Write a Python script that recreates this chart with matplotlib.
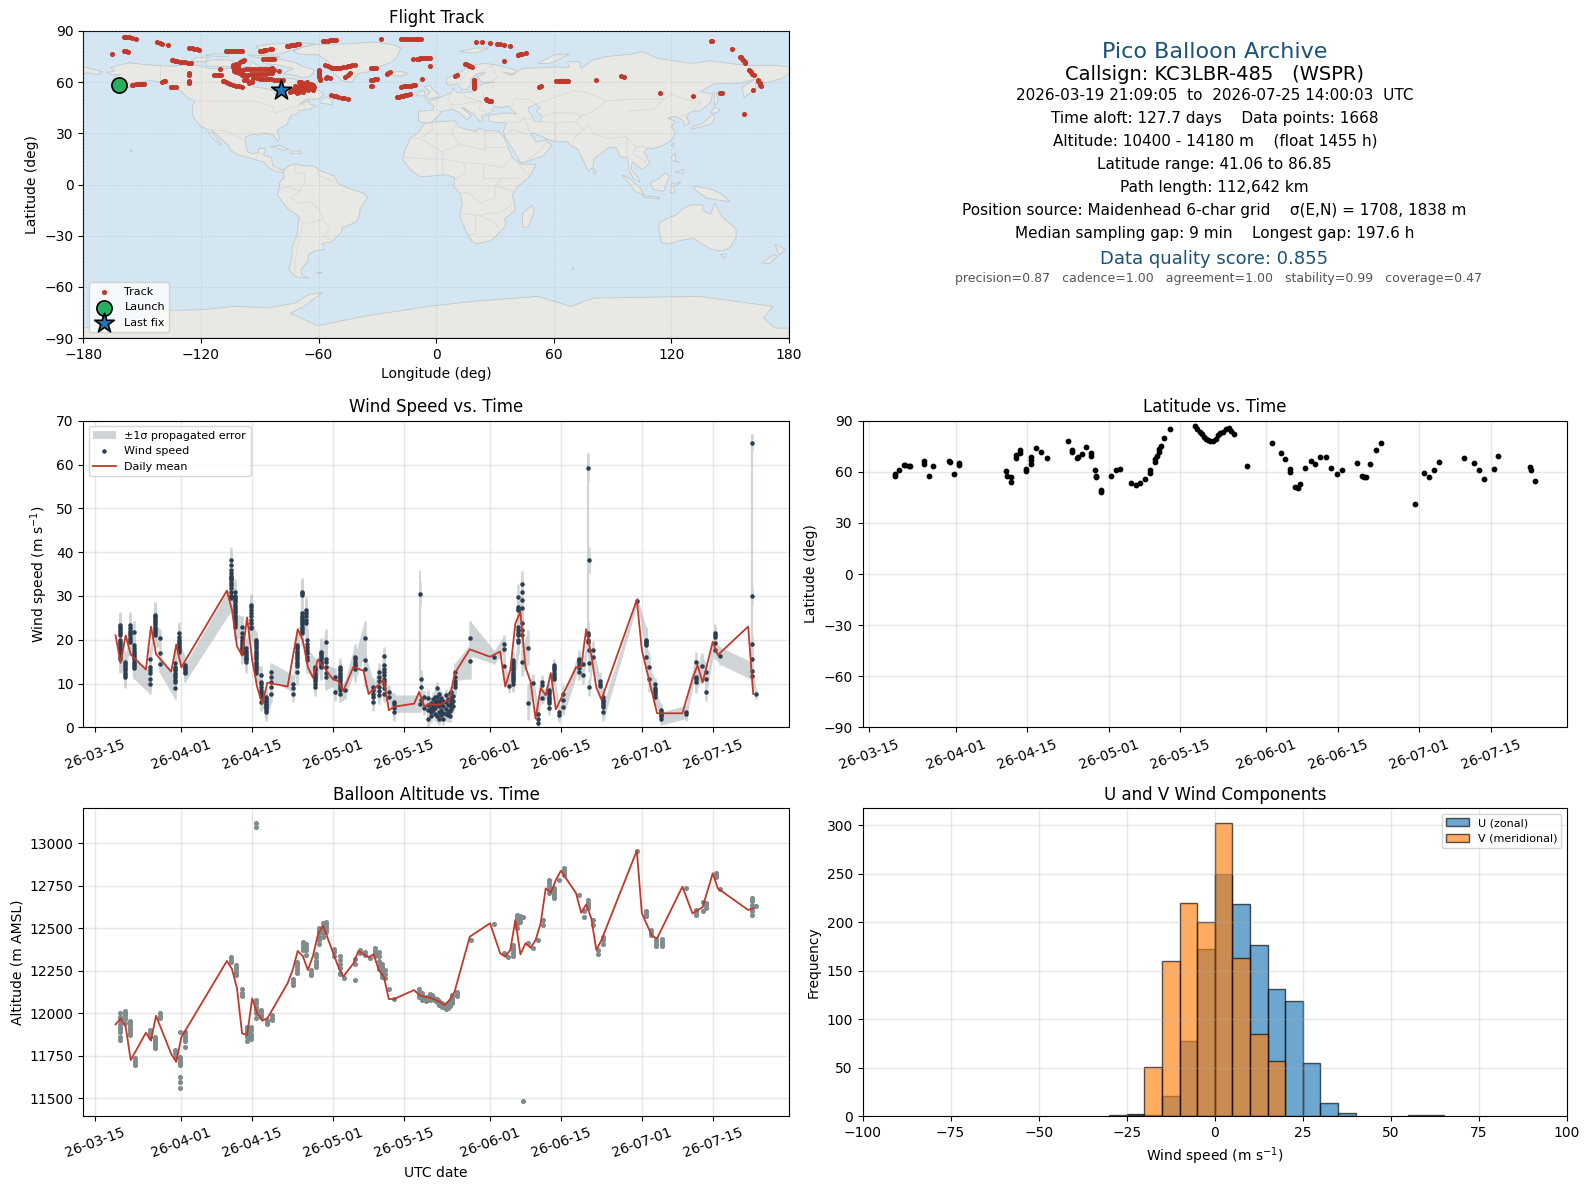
import datetime as dt
import numpy as np
import matplotlib
matplotlib.use("Agg")
import matplotlib.pyplot as plt
import matplotlib.dates as mdates
from matplotlib.patches import Polygon

W, H = 1590, 1189
BASE = mdates.date2num(dt.datetime(2026, 3, 15))

# ---- map data (lon, lat) ----
land = [
 [(-168,65.5),(-164,66.5),(-166,68.5),(-160,70.5),(-156.5,71.3),(-150,70.5),(-141,69.7),(-135,69.3),(-128,70.2),(-120,69.5),(-115,68),(-108,68),(-100,68),(-95,69.5),(-94,72),(-90,69),(-85,69.5),(-81.5,68.5),(-85,66),(-87,64.5),(-92,62.5),(-94.5,60),(-92.5,57),(-88,56.5),(-82.5,55),(-82,52.5),(-79.5,51.5),(-79,54.5),(-77,56.5),(-78,59),(-77.5,62.5),(-73,62),(-70,61),(-65,60),(-64.5,58.5),(-61,56),(-57,53),(-60,50),(-66,50),(-70,47),(-65,49),(-64.5,47),(-61,46),(-65,44),(-70,43.5),(-70.5,41.5),(-74,40.5),(-75.5,37.5),(-76,35),(-79,33.5),(-81,31.5),(-80,27),(-80.5,25.2),(-82,27),(-83,29),(-85,29.7),(-89,30),(-90,29),(-94,29.5),(-97,28),(-97.5,24),(-96,19),(-94,18),(-91,18.7),(-90.5,21),(-87,21.5),(-88,17),(-84,15.8),(-83.3,11),(-80,9),(-77.5,8.7),(-78,7.3),(-80.5,7.3),(-83,8.3),(-85.5,10),(-87.5,13),(-92,14.5),(-96,15.8),(-101,17.3),(-105,20),(-105.5,22.5),(-109,26),(-112.5,30),(-114.7,31.7),(-112.5,28),(-110,24),(-109.7,23),(-112,25),(-115,28.5),(-117,32.5),(-120.5,34.5),(-122.5,37.5),(-124,40),(-124.5,43),(-124,47),(-123,49),(-127,51),(-130,54.5),(-133,57),(-137,58.5),(-140,60),(-146,61),(-151,60),(-153,58),(-158,56.5),(-163,55),(-160,58.5),(-165,60.5),(-164,63),(-161,64.5),(-166,64.5)],
 [(-73,78.2),(-68,80.5),(-62,82),(-45,82.5),(-32,83.5),(-22,82),(-18,80),(-20,75),(-22,72),(-28,69.5),(-35,66),(-40,65),(-43,60),(-48,61),(-52,65),(-54,69),(-55,72),(-60,76),(-70,76.5)],
 [(-80,73.5),(-72,71.5),(-67,69),(-62,67),(-64,63.5),(-68,62.5),(-72,64),(-78,65),(-73,68),(-80,70),(-88,71),(-89,73.5)],
 [(-90,76.5),(-80,76.5),(-76,78),(-70,80),(-62,82.5),(-70,83),(-85,82.3),(-92,81),(-88,78)],
 [(-117,69.5),(-105,69),(-101,70),(-105,73),(-115,73),(-118,71.5)],
 [(-125,72),(-118,72),(-116,74.5),(-122,74.5)],
 [(-96,76),(-80,75),(-80,74.5),(-92,74.5)],
 [(-118,75.5),(-106,75),(-106,76.5),(-115,76.5)],
 [(-59,47.7),(-53,46.8),(-53,49),(-56,51.5),(-58,50)],
 [(-85,22),(-80,23),(-75,20.5),(-78,20),(-82,22)],
 [(-74,19.7),(-69,19.5),(-68.5,18.3),(-74,18.2)],
 [(-156,20.5),(-155,19.7),(-155.7,19)],
 [(-77.5,8.7),(-75,11),(-72,12),(-68,11),(-62,10.7),(-60,8.5),(-52,5),(-50,0.5),(-44,-2.5),(-37,-5),(-35,-7.5),(-39,-15),(-39,-18),(-41,-22),(-48,-25.5),(-48.5,-28),(-53,-33.5),(-58,-34.5),(-57,-38),(-62,-39),(-65,-41),(-65.5,-45),(-69,-50),(-68.5,-53),(-65,-55),(-72,-54),(-75,-50),(-73.5,-42),(-73.5,-37),(-71,-30),(-70,-18.5),(-76,-14),(-81,-6),(-80,-2.5),(-80,1),(-77.5,4),(-78,7.3)],
 [(-6,35.8),(3,37),(10,37.3),(11,34),(15,32.5),(20,31),(22,33),(25,31.7),(32,31.2),(34.5,28),(37,21),(39,15.5),(43,12),(51,11.8),(48,5),(41,-2),(39,-6),(40.5,-15),(35,-20),(35.5,-24),(32.5,-28),(28,-33),(20,-34.8),(18,-33),(15,-27),(12,-18),(13.5,-11),(12,-5),(9,-1),(9.5,4),(5,5.8),(-2,5),(-8,4.5),(-13,8.5),(-17,14.7),(-16,20),(-13,27.5),(-9.5,30)],
 [(-9,37),(-9,43),(-2,43.5),(-1,46),(-4.5,48.5),(2,51),(8,54),(8.5,57),(10.5,54),(14,54),(20,54.5),(21,57),(24,59),(30,60),(23,60),(21,63),(25,65.5),(22,65.5),(17.5,62),(18,59.5),(16,56),(13,55.5),(11,59),(6,58),(5,62),(12,66),(18,70),(25,71),(31,70),(41,67),(40,64.7),(34,66),(38,64),(44,68),(54,68.5),(60,69),(68,68.5),(67,72),(73,72),(74,68),(80,73),(87,75),(100,76.5),(105,78),(113,74),(130,71),(140,72.5),(160,69.5),(170,70),(180,69),(180,65),(177,62.5),(170,60),(163,59.5),(163,56),(157,51),(156,57),(163,62),(155,59.3),(142,59),(135,54.5),(141,53),(140,48),(135,43.5),(130,42.5),(127.5,39.5),(129.5,36),(126.5,34.5),(126,37.5),(122,40),(118,39),(122,37),(120,34),(122,30),(120,26),(115,22.5),(110,21),(108,21.5),(106,19),(109,13),(107,10.5),(105,8.8),(100,13.5),(99.5,9),(103,4),(104,1.5),(101,3),(98.5,8),(97.5,16),(94,16),(92,21.5),(88,22),(87,20.5),(80.5,15),(80,10),(77.5,8),(73,19),(72,21),(69,22.5),(67,25),(61,25),(57,26.5),(50,30),(48,30),(51,25),(56,26),(59,23),(55,17),(45,13),(43,13),(39,21),(35,28),(34.3,31.3),(36,36),(30,36.5),(27,37),(26.5,40),(29,41),(35,42),(41,41.5),(38,44.5),(37,46),(33,45),(30,46),(28,42),(23,40),(24,38),(22.5,36.5),(19.5,41),(13,45.5),(18,40),(15.5,38),(12,42),(8.5,44),(3,43),(0,39),(-2,36.7),(-5.5,36)],
 [(-180,65),(-180,69),(-175,67.5),(-170,66),(-173,64.5),(-178,65.5)],
 [(-5.5,50),(1,51.2),(1.5,53),(-2,56),(-3,58.5),(-6,57),(-3,54.5),(-5,52)],
 [(-10,52),(-6,52),(-6,55),(-9,54.5)],
 [(-24,65.5),(-18,66.3),(-14,65),(-18,63.5),(-22.5,64)],
 [(12,78),(20,80),(27,80),(20,77)],
 [(52,71),(58,71),(68,76.5),(60,76)],
 [(142,46),(144,49),(143,54),(142,53.5)],
 [(130,32),(131,34),(136,36),(140,40),(141.5,41),(142,39),(140.5,35.5),(136,34),(132,33)],
 [(140,42),(142,45.5),(145,43.5),(143,42)],
 [(120,23),(121.5,25),(121,22)],
 [(120,16),(122,18.5),(122,14),(124,13),(120.5,14)],
 [(122,7),(126,9),(126,6.5)],
 [(80,9.5),(82,7.5),(80.5,6)],
 [(95,5.5),(98,4),(104,-2),(106,-6),(102,-4.5)],
 [(105.5,-6.5),(114,-7.5),(114,-8.5),(106,-7.5)],
 [(109,1),(113,3),(117,7),(119,5),(117.5,1),(116,-4),(111,-3)],
 [(119.5,-5),(120,0.5),(125,1.5),(121,-1),(122,-5)],
 [(131,-1),(138,-2),(145,-5),(150,-10),(143,-9),(138,-8),(133,-4)],
 [(114,-22),(122,-18),(126,-14),(130,-12),(136,-12),(136,-15),(140,-17.5),(142,-11),(146,-19),(153,-26),(153,-31),(150,-37),(146,-39),(140,-38),(136,-35),(131,-31.5),(124,-33),(118,-35),(115,-34),(113.5,-26)],
 [(145,-41),(148,-41),(147,-43.5)],
 [(173,-35),(178,-38),(175,-41.5),(174,-39)],
 [(172,-41),(174,-42),(170,-46.5),(166.5,-46)],
 [(49,-12),(50,-16),(47,-25),(44,-25),(44,-17)],
 [(-61,-51.5),(-58,-51.5),(-59,-52.3)],
 [(69,-49),(70.5,-49),(70,-50)],
 [(-180,-84.2),(-135.4,-73.8),(-119,-73.4),(-102.6,-71.4),(-86,-72.4),(-72,-69.5),(-65,-64.6),(-58,-63.3),(-67.4,-71.5),(-74.5,-75.4),(-60.4,-82.8),(-37,-77.3),(-4,-71.5),(19.3,-68.5),(52.2,-65.6),(68.6,-71.5),(80.3,-66.6),(134.3,-65.6),(171.8,-71.5),(167,-78.3),(173,-84.2),(180,-84.2),(180,-90),(-180,-90)],
]
inland_water = [
 [(47,45),(51,47),(53,45),(51,43),(54,40),(53.5,37),(50,37),(49,40),(47,43)],
]
borders = [
 [(-141,69.7),(-141,60)], [(-123,49),(-95,49),(-89,48),(-83,45.5),(-82.5,42),(-79,43),(-75,45),(-70,46),(-67.5,47),(-67,45)],
 [(-117,32.5),(-108,31.5),(-103,29),(-97.5,26)], [(-92,14.5),(-91,18),(-88,18)],
 [(-72,12),(-72,7),(-67,6),(-67,1),(-70,-4),(-74,-8),(-70,-11),(-65,-10),(-60,-14),(-58,-20),(-54,-26),(-57,-30),(-53,-33.5)],
 [(-70,-18.5),(-68,-23),(-70,-33),(-72,-45),(-72,-52)], [(-60,8.5),(-60,5),(-52,2)],
 [(-80,-2.5),(-75,-1),(-70,-4)], [(-68,-23),(-62,-22),(-58,-20)],
 [(-13,27.5),(-8,27),(3,19),(12,23.5),(25,20),(25,31.7)], [(25,22),(36,22)], [(-2,35),(-2,32),(-8,27)], [(10,37),(8,30),(12,23.5)],
 [(-16,16),(-5,15),(4,15),(14,13),(24,12),(34,10),(38,15)], [(3,19),(3,6)], [(14,13),(15,7),(10,3)], [(24,12),(24,4),(30,4),(34,4),(41,4)],
 [(12,-5),(17,-5),(22,-11),(30,-8),(30,-1),(34,4)], [(12,-17),(22,-18),(33,-16),(40,-11)], [(20,-18),(20,-29),(17,-29)], [(22,-18),(30,-22),(32,-26)],
 [(42,12),(45,8),(48,5)], [(30,-1),(40,-4)],
 [(24,54.5),(24,50),(30,46)], [(14,54),(15,51),(23,49),(22,44),(26,42)], [(8,54),(6,50),(8,47),(13,47),(17,48),(23,49)], [(-2,43.5),(3,43)], [(3,43),(7,44),(8,47)], [(28,56),(30,60)], [(12,60),(18,69)], [(23,66),(29,70)], [(28,60),(31,63),(29,69)],
 [(36,36),(43,37),(45,39),(48,30)], [(35,29),(39,32),(47,29.5)], [(45,13),(52,19),(56,24)], [(44,39),(48,38.5)],
 [(53.5,37),(61,36),(61,30),(61,25)], [(61,36),(71,37),(75,32),(78,35),(80,30),(88,27),(97,28),(97.5,16)], [(69,22.5),(71,28),(75,32)], [(97,28),(102,22),(106,22),(108,21.5)], [(102,22),(100,18),(105,15),(107,13)],
 [(38,44.5),(40,50),(47,50),(51,47),(60,51),(70,55),(77,54),(87,49),(98,50),(107,50),(116,50),(120,53),(127,50),(135,48),(131,43)],
 [(87,49),(80,43),(74,40),(71,37)], [(98,50),(88,49)], [(98,43),(111,44),(116,50)], [(54,40),(60,42),(70,42),(74,40)],
 [(125,40),(130,42.5)],
]
track = [
 (-159.4,86.3),(-158,86.3),(-156.6,86.3),(-155,86),(-153,85.5),(-165.5,76.3),(-159.4,78.3),(-158,78),(-157,77.5),
 (-155.4,58.6),(-153,58.7),(-151,58.8),(-149,59),(-142.5,83.4),(-141,83),(-139.7,82.6),(-136.8,81.6),(-140.1,60.1),(-139,60.5),(-138.3,60.9),(-135.4,57.2),(-134,57.1),(-132.6,57),
 (-126,80),(-124.8,79.8),(-123.7,79.5),(-122,79.2),(-120.9,79),(-135,73),(-133,72.6),(-130.8,72),(-128,71.6),(-125.1,71.1),(-126,65.2),(-126,64.2),(-126,60.9),(-126,60),(-126,59.3),
 (-113.2,64),(-111.5,64),(-109.6,64),(-110.1,67.5),(-108.9,60.7),(-107,60),(-105,59),(-102,58),(-99.1,57.4),
 (-107.3,78.1),(-105,78.1),(-103,78.1),(-101,78.1),(-99.1,78.1),(-89.7,78.1),(-88,78.6),(-86.7,78.9),(-83.6,79.5),(-88.5,73.4),(-86,73.4),(-84,73.4),(-82.7,73.4),
 (-76.3,81.2),(-74,81.6),(-72,82),(-70.2,82.4),(-57.6,83.9),(-55,84.3),(-53,84.6),(-51,84.7),(-28,85.1),(-17.7,85.1),(-15,85.1),(-12,85.1),(-9.5,85.1),(-7.6,85.1),
 (20.5,83.4),(23.3,83.4),(27.5,82.8),(31.1,82.4),(32.5,82.2),(34.6,81.6),(37.6,81.2),
 (-11.6,73.6),(-9,73.8),(-7,74),(-5,74.2),(-2.9,74.2),(-2.9,69.5),
 (140.1,84.3),(140.8,84),(151.1,79.3),(155.4,74.6),(156,73.6),(157,72.5),(157.8,71.5),(159.6,67.2),(160.5,66),(162,64.2),(164.3,60.9),(165,59.5),(165.5,57.8),(161.5,55.4),(157.2,41.06),
 (146,53.5),(145,53.5),(130.8,51.7),(114.3,53.5),(95.6,63.3),(94.5,63.7),(81.7,61.1),(61.1,60.4),(62.5,60.5),(64,60.7),(65.5,60.8),(67.4,60.9),(52.6,57.4),(53.5,58),
 (41.6,75.9),(43,76.3),(45.6,76.9),(34.6,72.4),(14.6,70.7),(16,70),(17,69.5),(18.2,68.7),(9.5,63.8),(10.7,64.2),
 (19.3,61.3),(19.3,60),(19.2,58.5),(19.3,57.5),(19.5,56.4),(25.2,50),(26,49.5),(27,49.2),(28.2,49),
 (-7,61.9),(-17.7,57.4),(-15.5,57.7),(-13,58),(-10.7,58.4),(-20,51.1),(-18,51.6),(-16,52.3),(-13.5,53.1),
 (-33.4,61.3),(-32,61.5),(-30.4,61.7),(-33.4,58),(-32.5,57.8),(-25.2,64.8),(-23.6,66.2),(-33.4,68.5),(-31.5,68.2),(-30.6,68.1),(-46.3,63.3),(-45,64),(-44,65.2),
 (-56.9,70.1),(-55,69.5),(-53,68.5),(-51,68.1),(-49,68.5),(-46,69),(-44,69.5),(-41.6,70.1),(-59.7,67.2),(-59.7,65),(-59.6,63),(-59.2,61.3),(-55.7,62.9),(-53.4,52.5),(-51,51.8),(-48,51),(-45.2,50.4),
 (-103.8,70),(-102,70.8),(-100,71.7),(-97.9,73),(-102.6,67.2),(-100,67.3),(-97,67.5),(-94,67.6),(-91,67.8),(-88,68),(-85.5,68),(-83.8,68.1),(-103,68.5),(-101,69),
 (-99.1,64.2),(-96,64.4),(-93,64.6),(-90,64.8),(-87,65),(-83.8,65.2),(-93.2,62.3),(-90,62),(-87,61.8),(-84,61.6),(-81,61.4),(-78,61.3),(-97.9,61.3),(-95.6,59.3),(-82.7,67.2),(-80,66.8),
 (-74.5,54.5),(-72,55),(-70,55.5),(-68,56.3),(-66,57),(-64.5,57.6),(-62.7,58.4),(-69.8,60.3),(-68,59.5),(-66,58.5),(-65,57.8),(-63.5,56.5),(-62.7,55.4),(-71,57),(-69,57.5),(-67,56),(-72,58),(-66,60),(-70,54),
 (-101.5,67.25),(-98.5,67.4),(-95.5,67.55),(-92.5,67.7),(-89.5,67.9),(-87,68),(-84.5,68),(-97.5,64.3),(-94.5,64.5),(-91.5,64.7),(-88.5,64.9),(-85.5,65.1),
 (-91.5,62.2),(-88.5,61.9),(-85.5,61.7),(-82.5,61.5),(-79.5,61.35),(-103.5,68.8),(-102.5,69.5),(-101,70.3),(-99,72.3),(-98.5,72.7),(-103,66.5),(-102,66),(-100.5,65.5),(-99,65),(-97,63),(-96,60.5),(-94,60),
 (-108,60.4),(-106,59.5),(-103.5,58.5),(-100.5,57.7),(-106,78.1),(-104,78.1),(-102,78.1),(-100,78.1),(-88.5,78.4),(-85,79.2),(-87,73.4),(-85,73.4),(-83,73.4),
 (-73,54.8),(-71,55.2),(-69,55.9),(-67,56.6),(-65,57.3),(-63.5,58),(-69,60),(-67,59),(-64,57),(-63,56),(-68,58),(-66,56.5),(-70,58),(-64,59),(-65.5,55.5),(-62.5,57),(-72,56),(-68,54.5),(-74,56),(-71,53.5),
 (-54,69),(-52,68.3),(-50,68.3),(-47.5,68.8),(-45,69.3),(-43,69.8),(-59.7,66),(-59.6,64),(-59.4,62),(-56,62.5),(-54,62.5),
 (-154.5,58.6),(-152,58.7),(-150,58.9),(-134,72.8),(-132,72.3),(-129.5,71.8),(-126.5,71.4),(-112,64),(-110.5,64),
 (-75.3,81.4),(-73,81.8),(-71,82.2),(-56.5,84.1),(-54,84.5),(-52,84.6),(-16.5,85.1),(-13.5,85.1),(-10.5,85.1),(-8.5,85.1),
 (-10,73.7),(-8,73.9),(-6,74.1),(-4,74.2),(42,76),(44,76.5),(15,70.4),(17.5,69.2),(19.3,59.2),(19.4,57),(19.2,61),(25.8,49.8),(27.5,49),
 (-16.5,57.5),(-14,57.9),(-12,58.2),(-19,51.3),(-17,52),(-15,52.7),(-31,61.6),(-24.5,65.5),(-32.5,68.3),(63,60.6),(65,60.8),(66.5,60.8),(-52,51.6),(-50,51.4),(-47,50.7),
 (156.5,73),(157.4,72),(155,75),(160,66.5),(161,65),(164.8,60),(165.3,58.5),(164,61.5),
]
launch_lon, launch_lat = -161.7, 58.2
last_lon, last_lat = -79.3, 55.2
lon_ticks = [-180,-120,-60,0,60,120,180]
lat_ticks = [-90,-60,-30,0,30,60,90]

# ---- wind speed data (days after 2026-03-15, m/s) ----
wind_days = [4.95,5.9,6.86,7.7,10.9,11.7,12.7,15.8,16.6,17.7,26.8,27.6,28.9,29.8,30.8,31.7,32.8,33.7,34.8,39,39.8,40.9,41.6,41.8,43.4,44.5,45.5,47.4,48.4,49.3,51.3,53.2,54.8,56,57,58,59,
 64.2,65,65.8,66.4,66.8,67.2,67.6,68,68.4,68.8,69.2,69.6,70,70.3,70.6,71.1,74.1,78.8,80.8,81.7,82.6,83.6,84.3,85.4,86.5,87.4,88.3,89.6,90.6,91.7,92.5,95.6,96.4,97.4,98.4,99.7,100.4,107.1,108.8,109.5,110.5,111.8,116.7,118.6,119.8,120.6,122.5,123.5,129.7,130.6]
wind_vals = [
 [23.4,23,22.5,22,21.5,21,20,19.5,19,18.5,18,17.5,17,16,15.5],[15,14.5,14,13.5,13,12.5,12,11.5],[23.3,22.7,22,21.5,21,20.5,20,19.5],[21.8,18.8,18,17.5,17,16.5,16,15.5,15,14.5,14,13.5],
 [10,11.1,12.3,13,13.8,15.7],[25.6,25.3,25,24.5,24,23.5,23,22.5,22,21.5,21],[20.5,16.9,14.4],[8.9,10.4,10.8,11.5,12,12.5,13,13.4,13.8,14.6],[21.5,20.7,20,19.5,19,18.5,18,17.6,17.3],[14.2,13.8,13.5,13,12.6,12.3],
 [29.5,30,31,31.7,32.5,33,33.7,34.2,34.6,35.3,36,37,38.1,34,30],[30.8,30,29.5,29,28.5,28,27.5,27,26.5,26,25.5,25,24.5,24,23.5,23],[23,21.5,20.7,20,19.5,19,18.6,18.2,17.8,17.5,17],[18,17.5,17,16.5,16,15.7,15.5,15],[28,27.4,26.8,26,25.3,24.5,23.7,23,22.6],
 [19.9,19.5,19,18.5,18,17.5,17,16.5,16,15.5,15,14.5,14,13.5,13,12.3],[11.9,10.4,9.8,9.2,8.6,8.1,7.5,6.9,5.8],[6.9,6.4,6.1,5.8,5.4,5,4.6,4.3,3.9,3.5],[7.7,9.2,10.4,11.5,12.7],[10,8.9,7.7],[18.8,18.4,18,17.5,17,16.5,16,15.5,15,14.5,14,12.7],
 [31,30.6,30.2,26,25.5,25,24.5,24,23.5,23,22.5,22,21.5],[26.8,26,25.3,24.5,23.7],[19.9,19,18.4,17.6,16.9,16,15.3],[13.8,13.4,13,12.5,12,11.5,11,10.5,10,9.2],[17.3,16.9,16.5,16,15.5,15,14.5,14.1,13.8],[19.4,15.7,14.8,13.8,12.5,11.5],[11.5,8.1],
 [13.8,13.4,13,12.5,12,11.5,11,10.5,10,9.5,9,8.5,7.7],[8.5],[16.1,15.5,15,14.5,14,13.4],[20.3,15.3,13.4],[9.2,8.5,7.7,7,5.8],[12.7,11.5,10.5,9.2,8.2,7.3],[16.3,14.2,13.3,12.7,11.9,11.1,10.5,10,9,7.7],[8.1,6.9],[5.8,3.5,4.3,5.4],
 [5.4],[6.9,4.3],[6.6,5,3.9,1.8],[5.5,4.5,3.5,2.5],[6.5,5,4],[7,5.8,4.5,3],[8.9,7,6,5,2.5],[7.5,6,4.8,3.5,2],[6.8,5.5,4,2.8],[6,4.8,3.2,2],[7.3,5.8,4.2,3],[6.5,5,3.5,2.7],[7.8,6.5,5,3.7,2.6],[8,6.8,5.5,4.2],[7.2,6,4.8],
 [9.2,10,10.5,11.5,12.7],[15.1,20.3],[16],[19,17.8,14],[9.4],[15.3,14.8,14.5,14,13.5,13,12.5,12,11.5,11,10.5,10],[19.5,20,21,22.2,26.8,27.5,29.8,27,23,21.5],[32.7,30.8,29,27.2,23.7,22.2,21,14.8],[18.2,5.6],[10.2],[3.1,2,1],[10.4,9.6,6.8],
 [8.6,8,7.5,7,6.5,6,5.5,4.3],[14.2,13.8,13.5,13,12.5,12,11.5,11.1],[3.5,2.7],[7.7,6.2,4.7],[15.7,15.4,15,14.3,13.5,12.7],[14.4,11.9],[21.5,21,20,19.5],[17.6,16.1],[9.8,9.4,10.6],[6.9,6.2,5.9,5.5,5.1,4.7,3.5],
 [28.9],[20,19.7,19.5,19,18.8,16],[13.8,11.1],[9.8,9,8.5,8,7.5,7],[3.9,3.5,3.2,2.8,2.5,2],[3.5,3],[14.8,11.5,11,10.4],[14],[12.7,11.1,8.1],[21.5,21,20.7,19.2,17.6],[16.3],[12.9,15.6],[7.5],
]
wind_sigma = [3,2.5,3,2.5,2.5,3,2,2.5,2.5,2,3,3,2.5,2.5,2.5,2,2,2,2,2,3,3,3,3,2,3,3,2,2,2,3,4,2,2,2,1.5,2,
 2,1.5,2,1.5,1.5,1.5,1.5,1.5,1.5,1.5,1.5,1.5,1.5,1.5,1.5,2,4,1.5,2,1.5,2,3,3,4,2,2,1.5,1.5,1.5,1.5,2,2,2,2.5,2,2,2,0.8,3,3,1.5,1.5,1.5,2.5,3,2,2,2,2,1,]
# isolated spikes, in time order
spike_days = [64.25,64.3,64.3,64.3,97.45,97.5,97.55,97.55,97.55,129.75,129.8,129.85,129.85]
spike_vals = [30.4,11.1,9.2,6.2,59.3,38.2,17.6,14.6,9.1,65,30,19,11.7]
spike_sigma = [2.8,2,2,2,3.4,3,2,2,2,1.9,2,2,2]
# error-band extent of the three outliers
spike_band_days = [64.25,97.45,129.75]
spike_band_low = [11.5,23,11.5]
spike_band_high = [35.6,62.4,66.9]
mean_days = [4,5,6,7,10,11,12,15,16,17,26,27,28,29,30,31,32,33,34,38,40,41,42,43,44,47,48,49,51,53,54,57,58,59,63,64,65,66,68,70,71,74,78,80,81,82,83,84,85,86,87,88,89,90,91,95,96,97,98,99,100,107,108,111,116,118,119,120,122,123,129,130]
mean_wind = [21,14.7,21,16.6,13.2,23,16.7,12.7,18.9,13.7,31.2,26.8,18.5,16.4,25.1,15.3,9.1,5.4,10.2,9.3,22.4,19.9,13.8,11.3,15.5,10.9,10.6,8.3,13.8,12.9,7.6,10.8,3.9,4.7,5.4,8.1,4.8,5.3,5.1,6.3,12.3,17.8,16.1,17.3,9.3,13.1,23.7,26.4,13.8,10.4,2,9,7.3,12.4,4.1,13.7,13.8,22.4,16.5,9.1,6.3,29.1,17.6,3.2,3.2,11.1,14.2,10.2,19.5,16.5,23,7.6]

# ---- altitude data ----
alt_days = [4.95,5.9,6.86,7.8,10.9,11.7,12.7,15.8,16.7,17.7,26.8,27.8,28.9,30,30.7,31.8,32.7,33.9,34.9,39,39.8,41,41.6,42.6,43.6,44.3,44.9,45.5,47.2,48.4,49.2,51.3,52.3,53.3,54.3,55.2,56,56.6,57.3,58,59.1,
 63.9,64.6,65.3,66.1,66.5,67,67.5,67.9,68.6,69.2,69.6,70,70.5,71.4,74.2,78.8,80.8,81.6,82.6,83.4,84,84.6,85.4,86.5,87.5,88.4,89.7,90.6,91.7,92.6,95.6,96.6,97.4,98.4,99.4,100.4,107.1,108.9,109.9,110.8,111.9,116.8,118.7,120,120.6,122.6,123.5,129.8,130.6]
alt_vals = [
 [12000,11980,11961,11940,11922,11905,11888,11859,11843],[12014,12000,11990,11975,11965,11941],[11957,11945,11930,11915,11900,11885,11873],[11735,11722,11710,11696],[11902,11890,11880,11863],[11859,11847,11835,11822,11810,11794],[12000,11985,11971],[11784,11765,11745],[11892,11745,11732,11720,11708,11696,11624,11598,11559],[11892,11870,11855,11840,11804],
 [12330,12315,12300],[12284,12265,12250,12235,12225],[12141,12120,12100],[11922,11910,11900,11890,11880,11870,11860,11835],[11920,11900,11880,11865,11850],[13122,13098,12080,12060,12040,12020,12000,11971],[12020,12005,11990,11980],[11961,11950,11937],[11990,11975,11961],[12200,12185,12167],[12304,12290,12270,12255,12240],[12422,12405,12390,12380,12372],[12410,12390,12370,12345],[12255,12240,12225],[12350,12330,12310,12290,12275],[12500,12485,12470,12450,12430,12405],[12530,12510,12490,12470,12450],[12539,12525,12510,12495,12480],
 [12380,12360,12340],[12340,12315,12290,12265,12240,12230],[12210],[12318,12290,12196],[12370,12355],[12360,12345],[12325],[12385,12365,12350,12335],[12360,12335,12310,12285,12260],[12290,12270,12250,12230,12215],[12255,12230,12205],[12141],[12082],
 [12141,12125,12110,12095],[12120,12100,12080],[12095,12085,12075],[12113,12105,12098,12090,12080],[12105,12095,12088],[12090,12085,12078],[12082,12072,12065],[12075,12062,12050],[12058,12048,12040],[12043,12035,12024],[12060,12045,12030],[12075,12060,12045],[12110,12097,12085,12072,12060],[12128,12115,12100],
 [12431],[12526],[12353],[12330],[12402,12385,12370,12355,12337],[12578,12565,12550,12525,12500],[12570,12555,12540],[11482,12565],[12412],[12386],[12431],[12550,12520],[12785,12765,12750,12730,12710],[12735,12717,12700,12690,12680],[12785],[12853,12838,12825,12814],[12697],[12600,12565],[12667,12650,12640,12630,12618],[12549,12520],[12373,12350],[12450,12430,12410],[12955],[12600,12587,12575],[12490,12475,12460],[12440,12425,12410,12395],[12435,12420,12410,12395],[12740],[12610,12595,12580],[12600,12655],[12620,12635,12650],[12825,12812,12800],[12730],[12680,12660,12640,12620,12600,12580],[12630],
]
alt_mean_days = [4,5,6,7,10,11,12,15,16,17,26,27,28,29,30,31,32,33,34,38,39,40,41,42,43,44,45,48,49,51,52,54,55,56,57,58,59,63,64,65,66,68,69,70,71,74,78,80,81,82,83,84,85,86,87,88,89,90,91,92,95,96,97,98,99,100,107,108,110,111,116,118,120,122,123,129,130]
alt_mean = [11935,11969,11922,11725,11886,11839,11986,11761,11714,11859,12308,12261,12147,11882,11873,12088,12000,11957,11971,12177,12255,12367,12337,12255,12337,12465,12516,12275,12216,12294,12367,12330,12347,12255,12216,12084,12084,12137,12108,12098,12094,12069,12049,12078,12128,12451,12530,12353,12333,12373,12549,12347,12412,12386,12431,12530,12735,12710,12784,12839,12706,12592,12641,12559,12373,12431,12957,12588,12455,12441,12745,12588,12624,12824,12735,12608,12618]

# ---- latitude data ----
lat_days = [5,5,5.87,6.92,7.1,7.8,8,10.87,10.87,11.74,12.6,15.7,15.86,16.74,17.7,17.7,26.8,27.1,27.8,27.8,28.75,28.75,29.7,29.7,30.76,30.76,31.7,31.7,31.7,32.8,33.8,34.9,39,39.9,39.9,40.75,41,41.7,42.6,43.5,43.6,44.4,44.6,44.6,45.5,45.5,47.5,48.4,49.2,51.4,52.3,53.2,54.2,55.1,55.1,56.1,56.1,56.5,57,57,57.3,57.9,59,
 64,64.4,64.9,65.3,65.7,66.2,66.6,67,67.5,68,68.4,68.9,69.4,70,70.6,71.1,71.6,74.1,79,80.9,81.7,82.6,82.6,83.7,84.1,84.6,85.5,86.7,87.5,88.5,89.7,90.6,91.8,92.8,95.7,96.7,97.1,97.6,98.3,99.6,100.4,107.2,108.9,110,110.9,111.8,116.8,118.7,119.8,120.7,122.6,123.5,129.7,129.9,130.7]
lat_vals = [57.4,58.8,60.8,64.1,63.8,63.4,63.2,66.1,64.7,57.8,63.4,66.1,65.8,58.8,63.7,65.1,60.4,57.8,56.8,54.1,68.1,69.7,73,71,61.6,60.2,68.7,66.7,64.7,74.2,71.6,68.3,78.1,72.6,71.6,68.3,68.8,70.3,74.6,71,69.1,60.8,57.8,56.8,49.3,48.4,57.8,60.8,61.8,53.5,52.1,53.7,55.9,60.8,59.2,67.7,65.7,69.5,73.6,71.6,75,80.1,84.9,
 86.85,85,83.5,82,80.5,79.5,78.5,78.2,78.1,79.5,81.5,82.5,83.5,85,86,84,82.1,63.4,77.2,71,67.7,61.8,59.8,51.3,50.5,52.9,62.2,66.3,64.7,68.7,68.7,62.4,58.8,61.2,64.9,57.8,56.8,57.2,64.7,73,77,41.06,59.4,57,61.2,65.7,68.3,65.3,61.2,55.7,61.8,69.5,62.8,60.8,54.7]

# ---- histogram data ----
bin_left = [-30,-25,-20,-15,-10,-5,0,5,10,15,20,25,30,35,55,60]
u_counts = [1,2,1,21,77,172,250,219,177,131,119,55,13,3,1,1]
bin_left_v = [-25,-20,-15,-10,-5,0,5,10,15]
v_counts = [1,51,160,220,200,302,163,85,57]

info_lines = [
 ("Pico Balloon Archive", 16, "#1a5276", 52, 0),
 ("Callsign: KC3LBR-485   (WSPR)", 14, "black", 74.5, 0),
 ("2026-03-19 21:09:05  to  2026-07-25 14:00:03  UTC", 11, "black", 95, 0),
 ("Time aloft: 127.7 days    Data points: 1668", 11, "black", 118, 0),
 ("Altitude: 10400 - 14180 m    (float 1455 h)", 11, "black", 141, 0),
 ("Latitude range: 41.06 to 86.85", 11, "black", 164, 0),
 ("Path length: 112,642 km", 11, "black", 187.5, 0),
 ("Position source: Maidenhead 6-char grid    \u03c3(E,N) = 1708, 1838 m", 11, "black", 210.5, -1),
 ("Median sampling gap: 9 min    Longest gap: 197.6 h", 11, "black", 233.5, 0),
 ("Data quality score: 0.855", 13, "#1a5276", 258.5, -1),
 ("precision=0.87   cadence=1.00   agreement=1.00   stability=0.99   coverage=0.47", 9, "#555555", 278.5, 3.5),
]

def rect(x0, x1, top, bottom):
    return [x0 / W, 1 - bottom / H, (x1 - x0) / W, (bottom - top) / H]

fig = plt.figure(figsize=(W / 100, H / 100), dpi=100)
L, R = (83.3, 789), (862.5, 1567)
T1, T2, T3 = (31, 338), (420.7, 727.3), (808, 1116)
ax_map = fig.add_axes(rect(*L, *T1))
ax_info = fig.add_axes(rect(*R, *T1)); ax_info.axis("off")
ax_wind = fig.add_axes(rect(*L, *T2))
ax_lat = fig.add_axes(rect(*R, *T2))
ax_alt = fig.add_axes(rect(*L, *T3))
ax_hist = fig.add_axes(rect(*R, *T3))

# map
ax_map.set_facecolor("#d4e6f1")
for poly in land:
    ax_map.add_patch(Polygon(poly, closed=True, facecolor="#e8e8e4", edgecolor="#bfc9cc", lw=0.6, zorder=1))
for poly in inland_water:
    ax_map.add_patch(Polygon(poly, closed=True, facecolor="#d4e6f1", edgecolor="#bfc9cc", lw=0.5, zorder=1.1))
for line in borders:
    xs, ys = zip(*line)
    ax_map.plot(xs, ys, color="#d8dad9", lw=0.6, zorder=1.2)
t_lon, t_lat = zip(*track)
ax_map.scatter(t_lon, t_lat, s=7, color="#c0392b", label="Track", zorder=3)
ax_map.scatter([launch_lon], [launch_lat], s=120, color="#27ae60", edgecolor="black", lw=1.2, label="Launch", zorder=4)
ax_map.scatter([last_lon], [last_lat], s=220, marker="*", color="#1f77b4", edgecolor="black", lw=1.2, label="Last fix", zorder=4)
ax_map.set_xlim(-180, 180); ax_map.set_ylim(-90, 90)
ax_map.set_xticks(lon_ticks); ax_map.set_yticks(lat_ticks)
ax_map.grid(True, color="#9aa5a8", alpha=0.3, lw=0.5, ls="--")
ax_map.set_axisbelow(False)
ax_map.set_xlabel("Longitude (deg)"); ax_map.set_ylabel("Latitude (deg)")
ax_map.set_title("Flight Track", fontsize=12)
ax_map.legend(loc="lower left", fontsize=8, framealpha=0.8)
for line in ax_map.get_xgridlines() + ax_map.get_ygridlines():
    line.set_zorder(1.5)

# info
info_w = R[1] - R[0]
for txt, fs, col, y, dx in info_lines:
    ax_info.text(0.5 + dx / info_w, 1 - (y - T1[0]) / (T1[1] - T1[0]), txt, fontsize=fs, color=col,
                 ha="center", va="center", transform=ax_info.transAxes)

def style_time(ax, lo=-2.37, hi=137.07):
    ax.set_xlim(BASE + lo, BASE + hi)
    ax.xaxis.set_major_locator(mdates.DayLocator(bymonthday=[1, 15]))
    ax.xaxis.set_major_formatter(mdates.DateFormatter("%y-%m-%d"))
    ax.tick_params(axis="x", labelrotation=20)
    ax.grid(True, alpha=0.3, lw=1.0)

# wind
w_d, w_y, w_s = list(spike_days), list(spike_vals), list(spike_sigma)
for d, vals, sg in zip(wind_days, wind_vals, wind_sigma):
    for v in vals:
        w_d.append(d); w_y.append(v); w_s.append(sg)
order = np.argsort(w_d, kind="stable")
w_x = BASE + np.array(w_d)[order]
w_y = np.array(w_y)[order]
w_s = np.array(w_s)[order]
BAND = "#cfd5d7"
ax_wind.vlines(w_x, np.clip(w_y - w_s, 0, None), w_y + w_s, color=BAND, lw=1.8, zorder=1)
ax_wind.vlines(BASE + np.array(spike_band_days), spike_band_low, spike_band_high, color=BAND, lw=1.5, zorder=1)
ax_wind.fill_between(w_x, np.clip(w_y - w_s, 0, None), w_y + w_s, color=BAND, lw=0, zorder=1, label="\u00b11\u03c3 propagated error")
ax_wind.scatter(w_x, w_y, s=5, color="#2c3e50", label="Wind speed", zorder=3)
ax_wind.plot(BASE + np.array(mean_days), mean_wind, color="#c0392b", lw=1.3, label="Daily mean", zorder=4)
style_time(ax_wind)
ax_wind.set_ylim(0, 70)
ax_wind.set_ylabel("Wind speed (m s$^{-1}$)")
ax_wind.set_title("Wind Speed vs. Time", fontsize=12)
ax_wind.legend(loc="upper left", fontsize=8)

# latitude
ax_lat.scatter(BASE + np.array(lat_days), lat_vals, s=10, color="black", zorder=3)
style_time(ax_lat, -1.3, 137.0)
ax_lat.set_ylim(-90, 90); ax_lat.set_yticks(lat_ticks)
ax_lat.set_ylabel("Latitude (deg)")
ax_lat.set_title("Latitude vs. Time", fontsize=12)

# altitude
a_x = [BASE + d for d, vals in zip(alt_days, alt_vals) for _ in vals]
a_y = [v for vals in alt_vals for v in vals]
ax_alt.scatter(a_x, a_y, s=7, color="#7f8c8d", zorder=3)
ax_alt.plot(BASE + np.array(alt_mean_days), alt_mean, color="#c0392b", lw=1.3, zorder=4)
style_time(ax_alt)
ax_alt.set_ylim(11396, 13208)
ax_alt.set_xlabel("UTC date"); ax_alt.set_ylabel("Altitude (m AMSL)")
ax_alt.set_title("Balloon Altitude vs. Time", fontsize=12)

# histogram
ax_hist.bar(bin_left, u_counts, width=5, align="edge", color="#1f77b4", edgecolor="black", alpha=0.65, label="U (zonal)")
ax_hist.bar(bin_left_v, v_counts, width=5, align="edge", color="#ff7f0e", edgecolor="black", alpha=0.65, label="V (meridional)")
ax_hist.set_xlim(-100, 100); ax_hist.set_ylim(0, 318)
ax_hist.grid(True, alpha=0.3, lw=1.0)
ax_hist.set_xlabel("Wind speed (m s$^{-1}$)"); ax_hist.set_ylabel("Frequency")
ax_hist.set_title("U and V Wind Components", fontsize=12)
ax_hist.legend(loc="upper right", fontsize=8)

fig.savefig("out.png", dpi=100)
